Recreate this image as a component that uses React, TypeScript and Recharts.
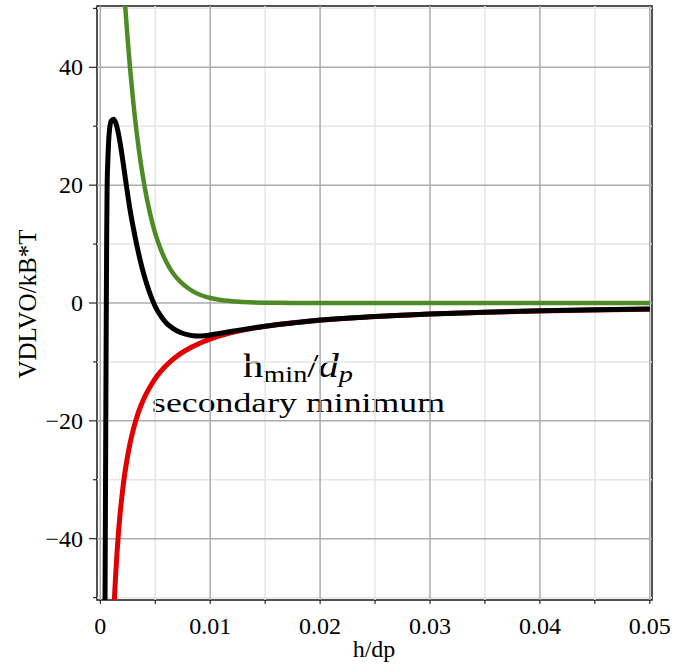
import React from "react";
import { LineChart, Line, XAxis, YAxis, ReferenceLine, ReferenceArea } from "recharts";

// ---- data ----
const hTotal = [0.00042, 0.00046, 0.0005, 0.00054, 0.00058, 0.00062, 0.0007, 0.00076, 0.00085, 0.001, 0.00122, 0.0014, 0.0016, 0.0018, 0.002, 0.0022, 0.0024, 0.0027, 0.003, 0.0033, 0.0036, 0.004, 0.0045, 0.005, 0.0055, 0.006, 0.0066, 0.0073, 0.008, 0.0088, 0.0097, 0.0107, 0.012, 0.0135, 0.015, 0.0175, 0.02, 0.025, 0.03, 0.035, 0.04, 0.045, 0.05];
const vTotal = [-55, -38, -20, -3, 11, 19.5, 24.8, 27.5, 29.6, 30.9, 31.2, 30.6, 29.2, 27.2, 24.8, 22.2, 19.6, 15.9, 12.8, 10.0, 7.5, 4.6, 1.7, -0.6, -2.2, -3.4, -4.3, -5.0, -5.4, -5.6, -5.5, -5.2, -4.8, -4.35, -3.95, -3.4, -2.9, -2.3, -1.85, -1.55, -1.32, -1.15, -1.02];

const hVdw = [0.0012, 0.0013, 0.0014, 0.0015, 0.0016, 0.0018, 0.002, 0.0022, 0.0024, 0.0027, 0.003, 0.0033, 0.0037, 0.0041, 0.0046, 0.0052, 0.0058, 0.0065, 0.0073, 0.0082, 0.0092, 0.0103, 0.0116, 0.013, 0.015, 0.0175, 0.02, 0.025, 0.03, 0.035, 0.04, 0.045, 0.05];
const vVdw = [-53.8, -49.6, -46.1, -43.0, -40.3, -35.8, -32.3, -29.3, -26.9, -23.9, -21.5, -19.5, -17.4, -15.7, -14.0, -12.3, -11.0, -9.75, -8.6, -7.6, -6.7, -5.9, -5.2, -4.6, -3.95, -3.36, -2.92, -2.3, -1.88, -1.58, -1.36, -1.18, -1.05];

const hEdl = [0.0021, 0.0023, 0.0025, 0.0027, 0.003, 0.0033, 0.0036, 0.004, 0.0045, 0.005, 0.0055, 0.006, 0.0066, 0.0073, 0.008, 0.0088, 0.0097, 0.0107, 0.012, 0.0135, 0.015, 0.0175, 0.02, 0.03, 0.04, 0.05];
const vEdl = [55, 49.5, 44.5, 40, 34.1, 29.1, 24.8, 20.1, 15.4, 11.8, 9.1, 7.0, 5.1, 3.6, 2.5, 1.6, 1.0, 0.6, 0.3, 0.13, 0.06, 0.02, 0.01, 0, 0, 0];

const xTicks = [0, 0.005, 0.01, 0.015, 0.02, 0.025, 0.03, 0.035, 0.04, 0.045, 0.05];
const xMajor = [0, 0.01, 0.02, 0.03, 0.04, 0.05];
const xMinor = [0.005, 0.015, 0.025, 0.035, 0.045];
const xLabels = ["0", "0.01", "0.02", "0.03", "0.04", "0.05"];
const yTicks = [-50, -40, -30, -20, -10, 0, 10, 20, 30, 40, 50];
const yMajor = [-40, -20, 0, 20, 40];
const yMinor = [-50, -30, -10, 10, 30, 50];
const yLabels = ["\u221240", "\u221220", "0", "20", "40"];

const X_DOMAIN: [number, number] = [-0.0003, 0.0502];
const Y_DOMAIN: [number, number] = [-50.4, 50.4];

const zip = (hs: number[], vs: number[]) => hs.map((h, i) => ({ h, v: vs[i] }));
const totalData = zip(hTotal, vTotal);
const vdwData = zip(hVdw, vVdw);
const edlData = zip(hEdl, vEdl);

const FONT = '"Liberation Serif", "Times New Roman", Times, serif';
const textStyle: React.CSSProperties = { fontFamily: FONT };

const XTick = (props: any) => {
  const { x, y, payload } = props;
  const idx = xMajor.findIndex((m) => Math.abs(m - payload.value) < 1e-9);
  return (
    <g>
      <line x1={x} x2={x} y1={y} y2={y + 4} stroke="#000" strokeWidth={1} />
      {idx >= 0 && (
        <text x={x} y={y + 34} textAnchor="middle" style={textStyle} fontSize={24} fill="#000">
          {xLabels[idx]}
        </text>
      )}
    </g>
  );
};

const YTick = (props: any) => {
  const { x, y, payload } = props;
  const idx = yMajor.findIndex((m) => Math.abs(m - payload.value) < 1e-9);
  const len = idx >= 0 ? 8 : 4;
  return (
    <g>
      <line x1={x - len} x2={x} y1={y} y2={y} stroke="#000" strokeWidth={1} />
      {idx >= 0 && (
        <text x={x - 14} y={y + 8} textAnchor="end" style={textStyle} fontSize={24} fill="#000">
          {yLabels[idx]}
        </text>
      )}
    </g>
  );
};

export default function App() {
  return (
    <div style={{ position: "absolute", left: 0, top: 0, width: 697, height: 671, background: "#fff" }}>
      <LineChart width={697} height={671} margin={{ top: 6, right: 45, bottom: 0, left: 0 }}>
        <XAxis
          dataKey="h"
          type="number"
          domain={X_DOMAIN}
          allowDataOverflow
          ticks={xTicks}
          tick={<XTick />}
          tickLine={false}
          tickSize={0}
          tickMargin={0}
          axisLine={false}
          height={71}
          interval={0}
        />
        <YAxis
          type="number"
          domain={Y_DOMAIN}
          allowDataOverflow
          ticks={yTicks}
          tick={<YTick />}
          tickLine={false}
          tickSize={0}
          tickMargin={0}
          axisLine={false}
          width={97}
          interval={0}
        />
        {xMinor.map((v) => (
          <ReferenceLine key={"xm" + v} x={v} stroke="#e6e6e6" strokeWidth={1.5} />
        ))}
        {yMinor.map((v) => (
          <ReferenceLine key={"ym" + v} y={v} stroke="#e6e6e6" strokeWidth={1.5} />
        ))}
        {xMajor.map((v) => (
          <ReferenceLine key={"xM" + v} x={v} stroke="#acacac" strokeWidth={1.5} />
        ))}
        {yMajor.map((v) => (
          <ReferenceLine key={"yM" + v} y={v} stroke="#acacac" strokeWidth={1.5} />
        ))}
        <Line data={edlData} dataKey="v" type="monotone" stroke="#4e8a26" strokeWidth={4.5} dot={false} isAnimationActive={false} />
        <Line data={vdwData} dataKey="v" type="monotone" stroke="#e00000" strokeWidth={5} dot={false} isAnimationActive={false} />
        <Line data={totalData} dataKey="v" type="monotone" stroke="#000000" strokeWidth={5} dot={false} isAnimationActive={false} />
        <ReferenceArea
          x1={X_DOMAIN[0]}
          x2={X_DOMAIN[1]}
          y1={Y_DOMAIN[0]}
          y2={Y_DOMAIN[1]}
          fill="none"
          fillOpacity={0}
          stroke="#1a1a1a"
          strokeWidth={1.5}
          ifOverflow="visible"
        />
        <text x={0} y={0} transform="translate(36,304) rotate(-90)" textAnchor="middle" style={textStyle} fontSize={25} fill="#000">
          VDLVO/kB*T
        </text>
        <text x={374} y={657} textAnchor="middle" style={textStyle} fontSize={24} fill="#000">
          h/dp
        </text>
        <text x={243} y={377} style={textStyle} fontSize={33} fill="#000" textLength={110} lengthAdjust="spacingAndGlyphs">
          h<tspan fontSize={23} dy={5}>min</tspan>
          <tspan dy={-5}>/</tspan>
          <tspan fontStyle="italic">d</tspan>
          <tspan fontSize={23} fontStyle="italic" dy={5}>p</tspan>
        </text>
        <text x={152} y={412} style={textStyle} fontSize={27} fill="#000" textLength={293} lengthAdjust="spacingAndGlyphs">
          secondary minimum
        </text>
      </LineChart>
    </div>
  );
}
